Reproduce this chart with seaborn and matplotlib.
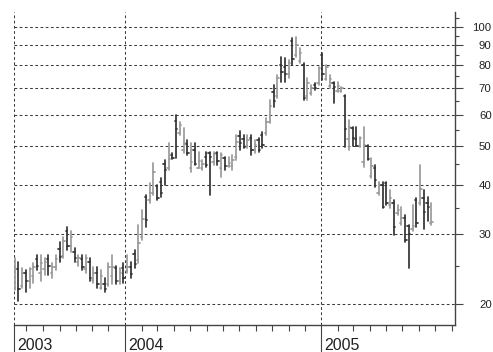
import numpy as np
import pandas as pd
import matplotlib
matplotlib.use("Agg")
import matplotlib.pyplot as plt
import matplotlib.dates as mdates
import matplotlib.transforms as mtransforms
from matplotlib.ticker import FixedLocator, NullFormatter
import seaborn as sns

sns.set_style("white")
plt.rcParams["font.family"] = ["Liberation Sans", "DejaVu Sans"]

# Weekly price bars, first week starting 2003-06-09
first_week = "2003-06-09"
opens = [22.5, 24.5, 22.2, 23.9, 22.9, 23.5, 26.0, 24.0, 24.5, 26.0, 24.0, 24.8,
         27.5, 26.5, 30.5, 28.0, 27.0, 25.5, 26.0, 24.5, 25.5, 23.0, 23.9, 21.9,
         22.5, 22.5, 23.5, 24.6, 22.9, 24.6, 24.2, 24.8, 26.8, 25.8, 29.5, 37.2,
         36.5, 38.0, 39.6, 40.5, 45.0, 44.0, 47.6, 58.0, 54.0, 49.0, 50.5, 44.0,
         49.0, 44.1, 44.1, 47.0, 48.0, 45.5, 48.1, 44.0, 46.7, 44.5, 44.5, 47.0,
         53.0, 52.0, 50.0, 52.5, 49.0, 51.9, 53.4, 54.0, 57.5, 68.5, 67.0, 80.0,
         79.0, 76.0, 92.0, 85.0, 82.0, 80.0, 67.0, 68.0, 71.5, 72.0, 85.0, 74.0,
         71.0, 72.0, 69.0, 69.0, 67.0, 52.0, 55.5, 52.0, 50.0, 45.5, 50.0, 42.0,
         44.0, 38.0, 40.0, 40.3, 35.5, 36.0, 34.0, 32.0, 33.0, 31.4, 30.9, 36.6,
         36.0, 37.0, 36.0, 32.0]
highs = [26.1, 25.5, 24.6, 24.3, 24.6, 25.4, 26.6, 26.6, 26.1, 26.6, 25.4, 26.6,
         28.7, 29.5, 31.2, 30.6, 27.7, 26.6, 26.6, 26.6, 26.1, 24.8, 24.8, 24.3,
         23.2, 25.4, 26.6, 25.0, 24.6, 25.4, 26.6, 25.5, 27.3, 31.6, 34.5, 37.6,
         40.3, 45.4, 39.8, 41.6, 46.2, 51.0, 48.1, 59.9, 57.5, 55.6, 51.9, 51.0,
         51.0, 48.4, 46.2, 48.4, 48.4, 48.4, 48.4, 48.1, 47.0, 47.0, 47.6, 53.4,
         54.6, 53.4, 53.4, 53.4, 51.9, 52.5, 54.3, 58.9, 65.4, 71.4, 75.6, 84.0,
         83.5, 82.5, 93.8, 94.4, 88.5, 81.0, 74.3, 71.4, 72.2, 79.2, 86.0, 80.2,
         75.6, 72.6, 72.6, 70.5, 67.3, 58.2, 55.9, 55.9, 52.8, 55.9, 50.4, 46.7,
         44.9, 40.5, 40.5, 40.5, 38.7, 36.6, 35.6, 35.2, 33.5, 31.6, 35.6, 37.0,
         44.9, 38.7, 37.2, 35.9]
lows = [21.7, 20.4, 21.9, 21.4, 21.9, 22.6, 24.3, 22.9, 23.6, 23.6, 23.2, 24.3,
        25.5, 26.1, 27.3, 27.0, 25.5, 25.0, 24.3, 23.9, 22.9, 22.6, 21.9, 21.8,
        21.4, 22.2, 22.5, 22.5, 22.5, 22.6, 24.0, 23.3, 24.6, 25.4, 29.0, 31.2,
        35.9, 37.6, 36.6, 37.2, 39.8, 43.6, 46.5, 46.7, 53.4, 48.1, 47.6, 43.1,
        44.9, 44.1, 43.6, 44.3, 37.6, 44.9, 44.9, 41.8, 43.6, 44.3, 43.6, 46.2,
        49.0, 49.5, 49.5, 47.6, 48.1, 48.4, 49.5, 53.4, 57.2, 62.8, 66.2, 72.6,
        72.6, 74.3, 80.2, 84.0, 81.0, 65.4, 65.4, 67.3, 69.3, 71.4, 73.5, 73.5,
        70.1, 64.3, 68.5, 68.5, 49.8, 49.0, 50.1, 50.1, 49.8, 44.3, 46.2, 41.6,
        39.4, 37.6, 35.0, 35.6, 35.0, 29.8, 33.5, 31.7, 28.7, 24.6, 30.6, 31.2,
        35.6, 30.9, 32.3, 31.7]
closes = [24.5, 21.8, 23.9, 22.9, 24.5, 24.8, 25.0, 25.4, 25.5, 25.0, 24.8, 26.0,
          26.3, 28.8, 28.0, 29.5, 26.1, 26.1, 24.8, 26.1, 23.3, 23.9, 22.4, 23.5,
          21.8, 24.8, 24.8, 22.9, 24.0, 23.2, 24.8, 23.8, 25.2, 28.5, 32.7, 32.5,
          38.0, 43.0, 37.0, 38.0, 43.6, 46.5, 46.8, 55.3, 56.6, 51.0, 48.1, 45.7,
          45.1, 46.0, 45.0, 44.9, 47.0, 47.8, 46.0, 47.6, 44.5, 45.4, 46.2, 51.3,
          51.0, 49.8, 51.9, 49.0, 50.4, 49.0, 50.4, 57.5, 63.0, 65.0, 74.3, 77.0,
          76.0, 81.0, 83.0, 90.0, 86.0, 66.0, 72.0, 70.0, 70.0, 78.8, 76.0, 79.0,
          74.0, 70.5, 71.0, 70.0, 55.3, 56.0, 52.5, 50.1, 52.5, 50.4, 46.5, 44.5,
          41.0, 40.0, 35.2, 36.0, 37.0, 31.2, 34.6, 33.0, 29.0, 30.0, 31.4, 32.0,
          39.0, 34.2, 35.2, 32.2]

price_ticks = [20, 30, 40, 50, 60, 70, 80, 90, 100]
price_minor = [25, 35, 45, 55, 65, 75, 85, 95, 105]
year_labels = ["2003", "2004", "2005"]
year_starts = ["2003-06-08", "2004-01-01", "2005-01-01"]

weeks = pd.date_range(first_week, periods=len(highs), freq="7D")
tick_w = pd.Timedelta(days=2.6)

# Each bar = high-low stroke + open tick (left) + close tick (right)
rows = []
for i, (d, o, h, l, c) in enumerate(zip(weeks, opens, highs, lows, closes)):
    trend = "up" if c >= o else "down"
    rows += [(3 * i, d, l, trend), (3 * i, d, h, trend),
             (3 * i + 1, d - tick_w, o, trend), (3 * i + 1, d, o, trend),
             (3 * i + 2, d, c, trend), (3 * i + 2, d + tick_w, c, trend)]
bars = pd.DataFrame(rows, columns=["seg", "date", "price", "trend"])

fig = plt.figure(figsize=(4.93, 3.52), dpi=100)
ax = fig.add_axes([14 / 493, 1 - 325 / 352, (455 - 14) / 493, (325 - 12) / 352])

sns.lineplot(data=bars, x="date", y="price", units="seg", estimator=None,
             hue="trend", palette={"up": "#9a9a9a", "down": "#333333"},
             sort=False, legend=False, linewidth=1.25, ax=ax)

ax.set_yscale("log")
ax.set_ylim(17.7, 109)
ax.set_xlim(pd.Timestamp("2003-06-08"), pd.Timestamp("2005-09-07"))
ax.set_xlabel("")
ax.set_ylabel("")

# Price axis on the right
ax.yaxis.tick_right()
ax.yaxis.set_major_locator(FixedLocator(price_ticks))
ax.yaxis.set_minor_locator(FixedLocator(price_minor))
ax.yaxis.set_minor_formatter(NullFormatter())
ax.set_yticklabels([str(v) for v in price_ticks])
ax.tick_params(axis="y", which="major", direction="out", length=5.8, width=0.8,
               color="#444444", labelsize=8.2, labelcolor="#222222", pad=20.6,
               right=True, left=False, labelright=True, labelleft=False)
ax.tick_params(axis="y", which="minor", direction="out", length=2.9, width=0.8,
               color="#444444", right=True, left=False)
for lab in ax.get_yticklabels():
    lab.set_horizontalalignment("right")

# Time axis: years with long ticks, months with short ticks
year_pos = [mdates.date2num(pd.Timestamp(s)) for s in year_starts]
ax.xaxis.set_major_locator(FixedLocator(year_pos))
ax.set_xticklabels(year_labels)
ax.xaxis.set_minor_locator(mdates.MonthLocator())
ax.xaxis.set_minor_formatter(NullFormatter())
ax.tick_params(axis="x", which="major", direction="out", length=19.5, width=0.8,
               color="#444444", labelsize=11.5, labelcolor="#222222", pad=-10.5,
               bottom=True)
ax.tick_params(axis="x", which="minor", direction="out", length=4.3, width=0.8,
               color="#444444", bottom=True)
shift = mtransforms.ScaledTranslation(3 / 100, 0, fig.dpi_scale_trans)
for lab in ax.get_xticklabels():
    lab.set_horizontalalignment("left")
    lab.set_transform(lab.get_transform() + shift)

ax.grid(True, which="major", axis="both", color="#3a3a3a",
        linestyle=(0, (2.6, 2.4)), linewidth=0.75)
ax.set_axisbelow(True)

for side in ("left", "top"):
    ax.spines[side].set_visible(False)
for side in ("right", "bottom"):
    ax.spines[side].set_visible(True)
    ax.spines[side].set_color("#444444")
    ax.spines[side].set_linewidth(1.0)

fig.savefig("out.png", dpi=100)
